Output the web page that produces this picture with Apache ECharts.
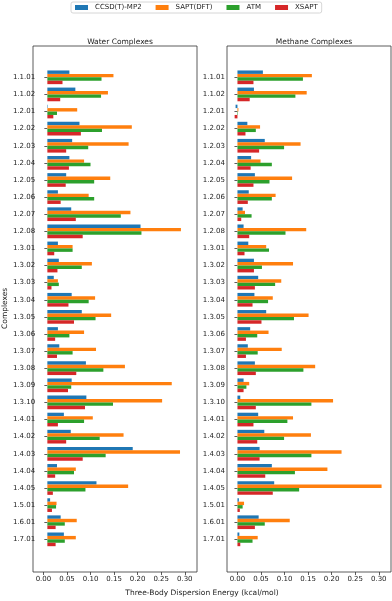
<!DOCTYPE html>
<html>
<head>
<meta charset="utf-8">
<script src="https://cdn.jsdelivr.net/npm/echarts@6/dist/echarts.min.js"></script>
<style>
  html, body { margin: 0; padding: 0; background: #fff; }
  #chart { width: 392px; height: 601px; }
</style>
</head>
<body>
<div id="chart"></div>
<script>
const categories = ['1.1.01', '1.1.02', '1.2.01', '1.2.02', '1.2.03', '1.2.04', '1.2.05', '1.2.06', '1.2.07', '1.2.08',
  '1.3.01', '1.3.02', '1.3.03', '1.3.04', '1.3.05', '1.3.06', '1.3.07', '1.3.08', '1.3.09', '1.3.10',
  '1.4.01', '1.4.02', '1.4.03', '1.4.04', '1.4.05', '1.5.01', '1.6.01', '1.7.01']
const methods = ['CCSD(T)-MP2', 'SAPT(DFT)', 'ATM', 'XSAPT']
const colors = ['#1f77b4', '#ff7f0e', '#2ca02c', '#d62728']
const xTicks = [0, 0.05, 0.1, 0.15, 0.2, 0.25, 0.3]

// water complexes
const waterCcsd = [0.048, 0.061, 0.001, 0.070, 0.054, 0.048, 0.041, 0.023, 0.052, 0.203, 0.023, 0.025, 0.014, 0.053, 0.075, 0.023, 0.026, 0.084, 0.053, 0.085, 0.036, 0.051, 0.186, 0.021, 0.107, 0.006, 0.029, 0.036]
const waterSapt = [0.144, 0.132, 0.065, 0.184, 0.177, 0.080, 0.137, 0.090, 0.181, 0.291, 0.055, 0.097, 0.023, 0.104, 0.139, 0.080, 0.106, 0.169, 0.271, 0.250, 0.099, 0.166, 0.289, 0.062, 0.176, 0.020, 0.064, 0.062]
const waterAtm = [0.118, 0.117, 0.021, 0.119, 0.089, 0.094, 0.102, 0.102, 0.160, 0.205, 0.055, 0.075, 0.025, 0.090, 0.105, 0.048, 0.055, 0.122, 0.052, 0.143, 0.080, 0.114, 0.127, 0.058, 0.083, 0.019, 0.038, 0.038]
const waterXsapt = [0.033, 0.028, 0.013, 0.073, 0.041, 0.047, 0.040, 0.029, 0.062, 0.077, 0.015, 0.022, 0.009, 0.046, 0.058, 0.017, 0.021, 0.063, 0.045, 0.082, 0.023, 0.041, 0.077, 0.017, 0.012, 0.010, 0.018, 0.018]

// methane complexes
const methaneCcsd = [0.054, 0.035, -0.004, 0.021, 0.058, 0.029, 0.037, 0.024, 0.011, 0.013, 0.023, 0.035, 0.044, 0.036, 0.061, 0.027, 0.022, 0.037, 0.013, 0.006, 0.044, 0.057, 0.047, 0.073, 0.078, 0.003, 0.045, 0.004]
const methaneSapt = [0.158, 0.147, 0.002, 0.048, 0.134, 0.049, 0.116, 0.081, 0.016, 0.146, 0.061, 0.118, 0.093, 0.075, 0.151, 0.066, 0.094, 0.165, 0.025, 0.203, 0.118, 0.156, 0.221, 0.191, 0.306, 0.014, 0.111, 0.043]
const methaneAtm = [0.139, 0.123, 0.001, 0.039, 0.099, 0.073, 0.068, 0.073, 0.030, 0.102, 0.067, 0.052, 0.080, 0.065, 0.120, 0.042, 0.043, 0.140, 0.019, 0.157, 0.106, 0.099, 0.157, 0.122, 0.131, 0.011, 0.058, 0.032]
const methaneXsapt = [0.034, 0.026, -0.006, 0.017, 0.046, 0.028, 0.034, 0.022, 0.008, 0.025, 0.015, 0.035, 0.037, 0.032, 0.051, 0.018, 0.018, 0.039, 0.013, 0.039, 0.034, 0.042, 0.047, 0.059, 0.075, 0.005, 0.037, 0.006]

const FONT = 'DejaVu Sans'
const TXT = '#222'
const X_MIN = -0.0222
const X_MAX = 0.326

// two panels: frame grid (box + x ticks) and bar grid (category band area)
const panels = [
  { left: 33, right: 195, data: [waterCcsd, waterSapt, waterAtm, waterXsapt], yName: 'Complexes' },
  { left: 227, right: 1, data: [methaneCcsd, methaneSapt, methaneAtm, methaneXsapt], yName: '' }
]

const grid = []
const xAxis = []
const yAxis = []
const series = []

panels.forEach((p, i) => {
  const frame = i * 2
  const bars = i * 2 + 1
  grid.push({ left: p.left, right: p.right, top: 46, bottom: 29, show: true, borderColor: '#333', borderWidth: 0.8, backgroundColor: 'transparent' })
  grid.push({ left: p.left, right: p.right, top: 68.75, bottom: 53.1 })
  xAxis.push({
    gridIndex: frame, type: 'value', min: X_MIN, max: X_MAX, interval: 0.05,
    axisLine: { show: false },
    axisTick: { show: true, length: 3, lineStyle: { color: '#333', width: 0.8 },
      customValues: xTicks },
    axisLabel: { fontFamily: FONT, fontSize: 7, color: TXT, margin: 4,
      customValues: xTicks, formatter: v => v.toFixed(2) },
    splitLine: { show: false }
  })
  xAxis.push({
    gridIndex: bars, type: 'value', min: X_MIN, max: X_MAX, show: false, splitLine: { show: false }
  })
  yAxis.push({ gridIndex: frame, type: 'value', show: false, splitLine: { show: false } })
  yAxis.push({
    gridIndex: bars, type: 'category', data: categories, inverse: true,
    axisLine: { show: false },
    axisTick: { show: true, length: 3, alignWithLabel: true, lineStyle: { color: '#333', width: 0.8 } },
    axisLabel: { fontFamily: FONT, fontSize: 7, color: TXT, margin: 2, interval: 0 },
    name: p.yName, nameLocation: 'middle', nameGap: 25, nameRotate: 90,
    nameTextStyle: { fontFamily: FONT, fontSize: 7.5, color: TXT }
  })
  p.data.forEach((values, k) => {
    series.push({
      name: methods[k], type: 'bar', xAxisIndex: bars, yAxisIndex: bars,
      data: values, barWidth: '20%', barGap: '0%',
      itemStyle: { color: colors[k] }
    })
  })
})

const option = {
  animation: false,
  color: colors,
  textStyle: { fontFamily: FONT },
  title: [
    { text: 'Water Complexes', left: 115, top: 33, textAlign: 'center',
      textStyle: { fontFamily: FONT, fontSize: 7.5, fontWeight: 'normal', color: TXT } },
    { text: 'Methane Complexes', left: 309, top: 33, textAlign: 'center',
      textStyle: { fontFamily: FONT, fontSize: 7.5, fontWeight: 'normal', color: TXT } },
    { text: 'Three-Body Dispersion Energy (kcal/mol)', left: 197, top: 584, textAlign: 'center',
      textStyle: { fontFamily: FONT, fontSize: 7.5, fontWeight: 'normal', color: TXT } }
  ],
  legend: {
    data: methods, left: 71, top: 2, padding: [2, 4, 2, 4],
    itemWidth: 13, itemHeight: 5, itemGap: 14,
    borderColor: '#ccc', borderWidth: 0.8, borderRadius: 2,
    icon: 'rect',
    textStyle: { fontFamily: FONT, fontSize: 7, color: TXT, padding: [0, 0, 0, 2] }
  },
  grid, xAxis, yAxis, series
}

const myChart = echarts.init(document.getElementById('chart'), null, { renderer: 'canvas' })
myChart.setOption(option)
</script>
</body>
</html>
